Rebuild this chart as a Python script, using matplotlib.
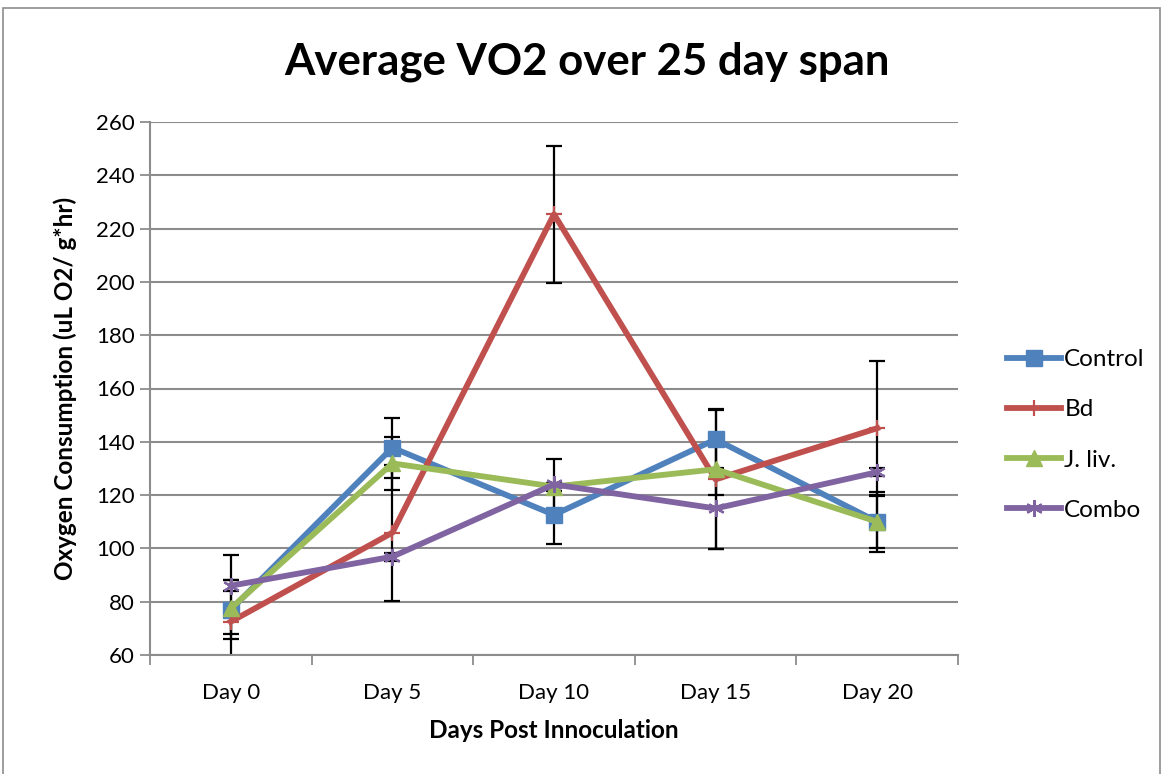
import matplotlib
matplotlib.use("Agg")
import matplotlib.pyplot as plt
from matplotlib.patches import Rectangle
import numpy as np

categories = ["Day 0", "Day 5", "Day 10", "Day 15", "Day 20"]
control = [77.0, 137.8, 112.6, 140.9, 110.0]
control_err = [11.0, 11.2, 11.0, 11.4, 11.3]
bd = [72.5, 105.9, 225.4, 125.9, 145.1]
bd_err = [4.5, 25.5, 25.7, 26.0, 25.3]
jliv = [77.5, 131.9, 123.2, 129.7, 110.0]
jliv_err = [20.0, 10.0, 1.5, 9.7, 10.0]
combo = [86.0, 96.9, 124.0, 115.0, 128.6]
combo_err = [2.0, 1.5, 9.4, 15.3, 1.5]

series = [
    ("Control", control, control_err, "#4F81BD", "s", 11),
    ("Bd", bd, bd_err, "#C0504D", "+", 12),
    ("J. liv.", jliv, jliv_err, "#9BBB59", "^", 12),
    ("Combo", combo, combo_err, "#8064A2", (6, 2, 0), 12),
]

plt.rcParams['font.family'] = ['Lato', 'DejaVu Sans']

fig = plt.figure(figsize=(11.63, 7.74), dpi=100)
ax = fig.add_axes([150/1163, 1-655/774, (958-150)/1163, (655-122)/774])

x = np.arange(len(categories))
for name, vals, errs, color, marker, ms in series:
    ax.errorbar(x, vals, yerr=errs, fmt='none', ecolor='black', elinewidth=1.6,
                capsize=6, capthick=1.6, zorder=2)
for name, vals, errs, color, marker, ms in series:
    ax.plot(x, vals, color=color, lw=4.2, marker=marker, markersize=ms,
            markeredgewidth=1.6 if marker in ("+", (6, 2, 0)) else 1,
            markeredgecolor=color, markerfacecolor=color, label=name, zorder=3)

ax.set_xlim(-0.5, len(categories) - 0.5)
ax.set_ylim(60, 260)
ax.set_yticks(np.arange(60, 261, 20))
ax.yaxis.grid(True, color='#8C8C8C', lw=1.5)
ax.set_axisbelow(True)
ax.set_xticks(x)
ax.set_xticklabels(categories, fontsize=16)
ax.set_xticks(np.arange(-0.5, len(categories), 1), minor=True)
ax.tick_params(axis='x', which='major', length=0, pad=20)
ax.tick_params(axis='x', which='minor', length=7, width=1.3, color='#8C8C8C', direction='out')
ax.tick_params(axis='y', length=7, width=1.3, color='#8C8C8C', labelsize=16, pad=4)
for s in ['top', 'right']:
    ax.spines[s].set_visible(False)
for s in ['left', 'bottom']:
    ax.spines[s].set_color('#8C8C8C')
    ax.spines[s].set_linewidth(1.5)

ax.set_xlabel("Days Post Innoculation", fontsize=17.5, fontweight='bold', labelpad=12)
ax.set_ylabel("Oxygen Consumption (uL O2/ g*hr)", fontsize=17.5, fontweight='bold', labelpad=14)
fig.text(587/1163, 1-62/774, "Average VO2 over 25 day span", fontsize=31.5,
         fontweight='bold', ha='center', va='center')

leg = ax.legend(loc='center left', bbox_to_anchor=(995/1163, 1-435/774),
                bbox_transform=fig.transFigure, frameon=False, fontsize=17.5,
                handlelength=2.2, handletextpad=0.15, labelspacing=1.2, borderpad=0)

fig.patches.append(Rectangle((3/1163, -0.01), 1157/1163, 1.0, transform=fig.transFigure,
                             fill=False, edgecolor='#8C8C8C', lw=1.2))

fig.savefig("out.png", dpi=100, facecolor='white')
